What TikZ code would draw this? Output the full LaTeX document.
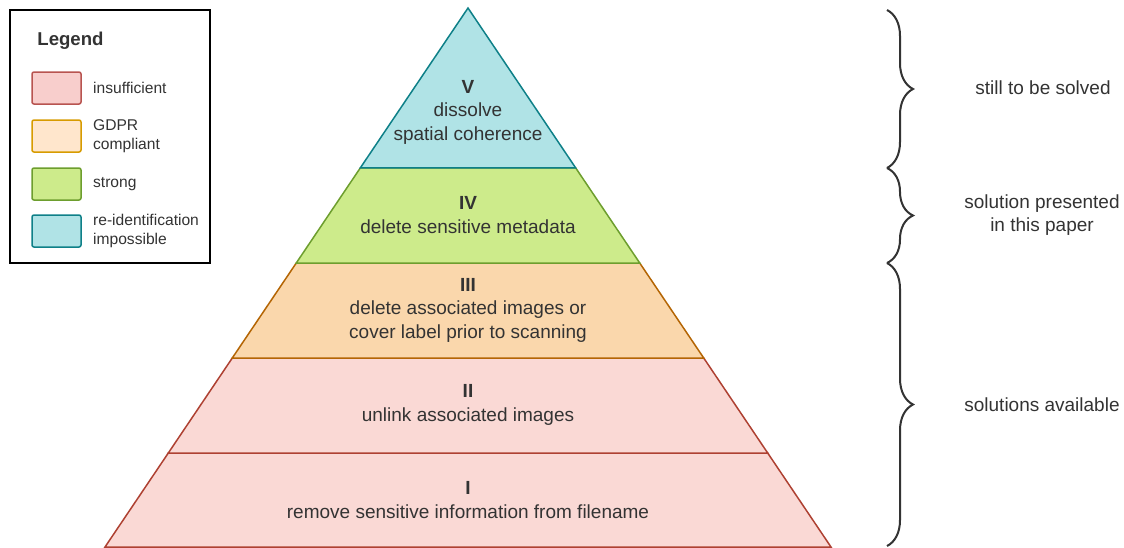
\documentclass[tikz,border=0pt]{standalone}
\usepackage{fontspec}
\setmainfont{Liberation Sans}
\usetikzlibrary{positioning}
\usetikzlibrary{calc}
\usetikzlibrary{decorations.pathreplacing}

\definecolor{txtgray}{HTML}{333333}
\definecolor{pinkfill}{HTML}{FAD9D5}
\definecolor{pinkline}{HTML}{AE4132}
\definecolor{orangefill}{HTML}{FAD7AC}
\definecolor{orangeline}{HTML}{B46504}
\definecolor{greenfill}{HTML}{CDEB8B}
\definecolor{greenline}{HTML}{6D9E2E}
\definecolor{bluefill}{HTML}{B0E3E6}
\definecolor{blueline}{HTML}{0E8088}
\definecolor{legpinkfill}{HTML}{F8CECC}
\definecolor{legpinkline}{HTML}{B85450}
\definecolor{legorangefill}{HTML}{FFE6CC}
\definecolor{legorangeline}{HTML}{D79B00}

\newcommand{\lvlfont}{\fontsize{9.5}{11.75}\selectfont}
\newcommand{\legfont}{\fontsize{7.8}{9.6}\selectfont}

\begin{document}
\begin{tikzpicture}[x=0.5pt,y=-0.5pt,
	lvltext/.style={align=center,text=txtgray,font=\lvlfont,inner sep=0pt},
	note/.style={align=center,text=txtgray,font=\lvlfont,inner sep=0pt},
	swatch/.style={draw,rectangle,rounded corners=1pt,line width=0.75pt,minimum width=24.5pt,minimum height=16pt,inner sep=0pt},
	leglabel/.style={anchor=west,align=left,text=txtgray,font=\legfont,inner sep=0pt},
	bracket/.style={draw=txtgray,line width=1pt,decorate,decoration={brace,amplitude=13pt}}]
	\useasboundingbox (0,0) rectangle (1124,547);

	% pyramid corners
	\coordinate (apex) at (468,8);
	\coordinate (bl) at (105,547);
	\coordinate (br) at (831,547);
	\coordinate (l4) at ($ (apex)!0.2968!(bl) $);
	\coordinate (r4) at ($ (apex)!0.2968!(br) $);
	\coordinate (l3) at ($ (apex)!0.4731!(bl) $);
	\coordinate (r3) at ($ (apex)!0.4731!(br) $);
	\coordinate (l2) at ($ (apex)!0.6494!(bl) $);
	\coordinate (r2) at ($ (apex)!0.6494!(br) $);
	\coordinate (l1) at ($ (apex)!0.8256!(bl) $);
	\coordinate (r1) at ($ (apex)!0.8256!(br) $);

	% layers, bottom first
	\filldraw[fill=pinkfill,draw=pinkline,line width=0.75pt] (bl) -- (br) -- (r1) -- (l1) -- cycle;
	\filldraw[fill=pinkfill,draw=pinkline,line width=0.75pt] (l1) -- (r1) -- (r2) -- (l2) -- cycle;
	\filldraw[fill=orangefill,draw=orangeline,line width=0.75pt] (l2) -- (r2) -- (r3) -- (l3) -- cycle;
	\filldraw[fill=greenfill,draw=greenline,line width=0.75pt] (l3) -- (r3) -- (r4) -- (l4) -- cycle;
	\filldraw[fill=bluefill,draw=blueline,line width=0.75pt] (l4) -- (r4) -- (apex) -- cycle;

	\node[lvltext] (t5) at (468,112) {\textbf{V}\\dissolve\\spatial coherence};
	\node[lvltext] (t4) at (468,215) {\textbf{IV}\\delete sensitive metadata};
	\node[lvltext] (t3) at (468,310) {\textbf{III}\\delete associated images or\\cover label prior to scanning};
	\node[lvltext] (t2) at (468,405) {\textbf{II}\\unlink associated images};
	\node[lvltext] (t1) at (468,500) {\textbf{I}\\remove sensitive information from filename};

	% legend
	\node[draw=black,line width=0.75pt,rectangle,minimum width=100pt,minimum height=126.5pt,anchor=north west] at (9,9) (legend) {};
	\node[anchor=west,text=txtgray,font=\fontsize{9.3}{11}\selectfont\bfseries,inner sep=0pt] at (37,41) (legtitle) {Legend};
	\node[swatch,fill=legpinkfill,draw=legpinkline] at (56.5,88) (sw1) {};
	\node[swatch,fill=legorangefill,draw=legorangeline] at (56.5,136) (sw2) {};
	\node[swatch,fill=greenfill,draw=greenline] at (56.5,184) (sw3) {};
	\node[swatch,fill=bluefill,draw=blueline] at (56.5,231) (sw4) {};
	\node[leglabel,right=5.5pt of sw1] (lb1) {insufficient};
	\node[leglabel,right=5.5pt of sw2] (lb2) {GDPR\\compliant};
	\node[leglabel,right=5.5pt of sw3] (lb3) {strong};
	\node[leglabel,right=5.5pt of sw4] (lb4) {re-identification\\impossible};

	% braces on the right
	\coordinate (k0) at (887,10);
	\coordinate (k1) at (887,168);
	\coordinate (k2) at (887,263);
	\coordinate (k3) at (887,546);
	\draw[bracket] (k0) -- (k1);
	\draw[bracket] (k1) -- (k2);
	\draw[bracket] (k2) -- (k3);

	\node[note] at (1043,88) (n1) {still to be solved};
	\node[note] at (1042,215) (n2) {solution presented\\in this paper};
	\node[note] at (1042,405) (n3) {solutions available};
\end{tikzpicture}
\end{document}
